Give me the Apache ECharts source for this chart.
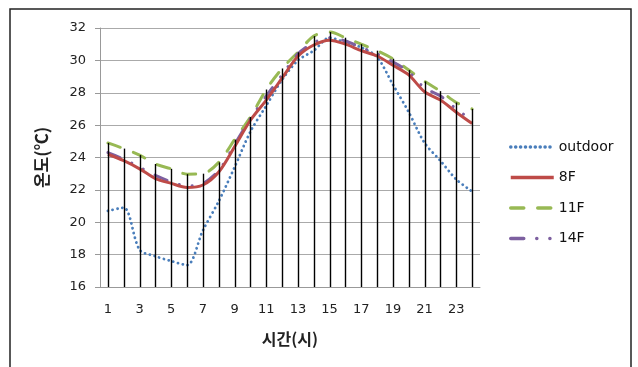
<!DOCTYPE html>
<html><head><meta charset="utf-8">
<script src="https://cdn.jsdelivr.net/npm/echarts@6/dist/echarts.min.js"></script>
<style>html,body{margin:0;padding:0;background:#fff}#c{width:638px;height:367px}</style>
</head><body><div id="c"></div>
<script>
var categories = ['1','2','3','4','5','6','7','8','9','10','11','12','13','14','15','16','17','18','19','20','21','22','23','24'];
var outdoor = [20.7,20.9,18.3,17.9,17.6,17.35,19.5,21.3,23.4,25.6,27.2,28.8,30.0,30.6,31.4,31.1,30.8,30.2,28.5,26.8,24.9,23.8,22.65,21.9];
var f8 = [24.2,23.8,23.3,22.7,22.4,22.15,22.3,23.1,24.66,26.3,27.55,28.9,30.25,30.95,31.25,31.0,30.6,30.27,29.7,29.1,28.06,27.55,26.8,26.1];
var f11 = [24.9,24.55,24.15,23.6,23.3,22.97,23.0,23.7,25.1,26.5,28.2,29.5,30.5,31.5,31.75,31.4,31.0,30.6,30.1,29.4,28.7,28.1,27.4,27.0];
var f14 = [24.3,23.9,23.4,22.9,22.5,22.25,22.4,23.2,24.8,26.4,27.8,29.1,30.4,31.1,31.4,31.2,30.8,30.4,29.9,29.3,28.3,27.8,27.0,26.3];
var yTicks = {min:16, max:32, interval:2};
var seriesNames = ['outdoor','8F','11F','14F'];

var dropData = categories.map(function(c,i){
  return [i, Math.max(outdoor[i], f8[i], f11[i], f14[i])];
});

var chart = echarts.init(document.getElementById('c'));
chart.setOption({
  animation:false,
  backgroundColor:'#fff',
  graphic:[{type:'rect',shape:{x:10,y:9,width:621,height:372},style:{fill:'none',stroke:'#222',lineWidth:1.5},silent:true}],
  grid:{left:100,right:158,top:28,bottom:80},
  legend:{
    orient:'vertical', left:504, top:135, itemWidth:43, itemHeight:14, itemGap:16.5,
    data:seriesNames,
    itemStyle:{opacity:0},
    lineStyle:{width:3.5},
    textStyle:{fontFamily:'DejaVu Sans',fontSize:14,color:'#111',padding:[0,0,0,0]}
  },
  xAxis:{
    type:'category', data:categories, boundaryGap:true,
    axisLine:{lineStyle:{color:'#999',width:1}},
    axisTick:{show:false},
    axisLabel:{interval:1,margin:16,fontFamily:'DejaVu Sans',fontSize:13,color:'#222'},
    name:'시간(시)', nameLocation:'middle', nameGap:44,
    nameTextStyle:{fontFamily:'Noto Sans CJK KR',fontSize:16,fontWeight:'bold',color:'#222'}
  },
  yAxis:{
    type:'value', min:yTicks.min, max:yTicks.max, interval:yTicks.interval,
    axisLine:{show:true,lineStyle:{color:'#999',width:1}},
    axisTick:{show:true,length:5,lineStyle:{color:'#999'}},
    splitLine:{lineStyle:{color:'#aaa',width:1}},
    axisLabel:{margin:14,fontFamily:'DejaVu Sans',fontSize:13,color:'#222'},
    name:'온도(℃)', nameLocation:'middle', nameGap:50, nameRotate:90,
    nameTextStyle:{fontFamily:'Noto Sans CJK KR',fontSize:17,fontWeight:'bold',color:'#222'}
  },
  series:[
    {name:'outdoor',type:'line',data:outdoor,smooth:0.3,symbol:'none',z:3,
     lineStyle:{color:'#4a7ebb',width:2.8,type:[0.1,4.8],cap:'round'},itemStyle:{color:'#4a7ebb'}},
    {name:'8F',type:'line',data:f8,smooth:0.3,symbol:'none',z:4,
     lineStyle:{color:'#be4b48',width:3},itemStyle:{color:'#be4b48'}},
    {name:'11F',type:'line',data:f11,smooth:0.3,symbol:'none',z:2,
     lineStyle:{color:'#98b954',width:3,type:[13,14],cap:'round'},itemStyle:{color:'#98b954'}},
    {name:'14F',type:'line',data:f14,smooth:0.3,symbol:'none',z:3,
     lineStyle:{color:'#7d60a0',width:3,type:[13,13,0.1,13,0.1,13],cap:'round'},itemStyle:{color:'#7d60a0'}},
    {name:'drop',type:'custom',data:dropData,z:10,silent:true,
     renderItem:function(params,api){
       var top = api.coord([api.value(0), api.value(1)]);
       var bot = api.coord([api.value(0), yTicks.min]);
       return {type:'line',shape:{x1:Math.round(top[0])+0.5,y1:top[1],x2:Math.round(bot[0])+0.5,y2:bot[1]},
               style:{stroke:'#000',lineWidth:1.4}};
     }}
  ]
});
</script></body></html>
